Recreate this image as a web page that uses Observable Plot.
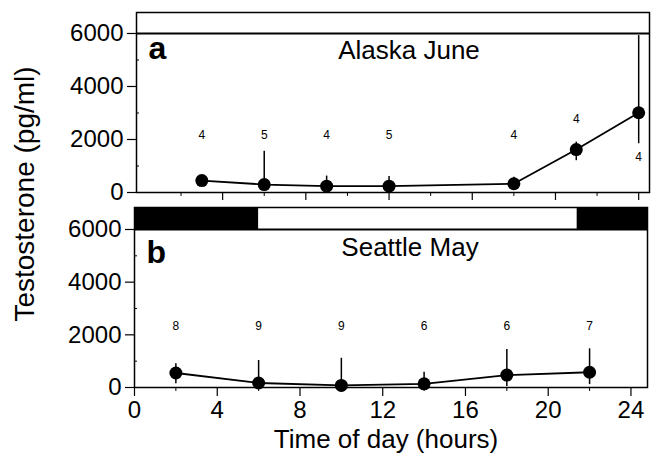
<!DOCTYPE html>
<html>
<head>
<meta charset="utf-8">
<script src="https://cdn.jsdelivr.net/npm/d3@7"></script>
<script src="https://cdn.jsdelivr.net/npm/@observablehq/plot@0.6"></script>
<style>
  html, body { margin: 0; padding: 0; background: #fff; }
  #fig { position: relative; width: 660px; height: 460px; background: #fff; font-family: "Liberation Sans", Arial, sans-serif; }
  #fig svg { position: absolute; left: 0; overflow: visible; }
  #ylab { position: absolute; left: 25px; top: 194px; transform: translate(-50%, -50%) rotate(-90deg); white-space: nowrap; font-size: 28px; line-height: 1; color: #000; }
</style>
</head>
<body>
<div id="fig"><div id="ylab">Testosterone (pg/ml)</div></div>
<script>
// ---- Data ----
const alaskaHours = [3, 6, 9, 12, 18, 21, 24];
const alaskaMean  = [450, 300, 240, 240, 330, 1620, 3010];
const alaskaLow   = [300, 100, 100, 100, 150, 1200, 1840];
const alaskaHigh  = [600, 1560, 620, 600, 580, 1900, 5920];
const alaskaN     = [4, 5, 4, 5, 4, 4, 4];
const alaskaNAt   = [2180, 2180, 2180, 2180, 2180, 2780, 1330];
const alaskaDark  = [];                      // continuous daylight in June

const seattleHours = [2, 6, 10, 14, 18, 22];
const seattleMean  = [550, 170, 80, 140, 470, 580];
const seattleLow   = [140, 0, 0, 0, 40, 110];
const seattleHigh  = [900, 1025, 1110, 580, 1440, 1470];
const seattleN     = [8, 9, 9, 6, 6, 7];
const seattleNAt   = [2330, 2330, 2330, 2330, 2330, 2330];
const seattleDark  = [[-6, 6], [21.4, 30]];  // night periods (hours)

const yTicks = [0, 2000, 4000, 6000];
const yMinor = [1000, 3000, 5000];
const xMajor = [0, 4, 8, 12, 16, 20, 24];
const xMinor = [2, 6, 10, 14, 18, 22];
const barBase = 6000;

const font = '"Liberation Sans", Arial, sans-serif';

function rows(h, m, lo, hi, n, at) {
  return h.map((d, i) => ({hour: d, mean: m[i], low: lo[i], high: hi[i], n: n[i], at: at[i]}));
}

function panel({data, dark, xDomain, yMax, width, height, mL, mR, mT, mB, letter, title, letterDy, titleDx, titleDy, showX}) {
  const marks = [
    Plot.rect(dark, {x1: d => d[0], x2: d => d[1], y1: barBase, y2: yMax, fill: "#000", clip: true}),
    Plot.ruleY([barBase], {stroke: "#000", strokeWidth: 1.8}),
    Plot.frame({stroke: "#000", strokeWidth: 1.5}),
    Plot.axisY({ticks: yTicks, tickSize: 9, tickPadding: 4, fontSize: 24, tickFormat: d => String(d), label: null, strokeWidth: 1.2}),
    Plot.axisY({ticks: yMinor, tickSize: -3, tickFormat: () => "", label: null}),
    Plot.axisX({ticks: xMinor, tickSize: 4, tickFormat: () => "", label: null}),
    Plot.ruleX(data, {x: "hour", y1: "low", y2: "high", stroke: "#000", strokeWidth: 1.5}),
    Plot.line(data, {x: "hour", y: "mean", stroke: "#000", strokeWidth: 1.8}),
    Plot.dot(data, {x: "hour", y: "mean", r: 6.5, fill: "#000", stroke: "none"}),
    Plot.text(data, {x: "hour", y: "at", text: "n", fontSize: 12, fill: "#000"}),
    Plot.text([letter], {text: d => d, frameAnchor: "top-left", textAnchor: "start", lineAnchor: "top", dx: 12, dy: letterDy, fontSize: 32, fontWeight: "bold", fill: "#000"}),
    Plot.text([title], {text: d => d, frameAnchor: "top", lineAnchor: "top", dx: titleDx, dy: titleDy, fontSize: 26, fill: "#000"})
  ];
  if (showX) {
    marks.push(Plot.axisX({ticks: xMajor, tickSize: 9, tickPadding: 4, fontSize: 24, tickFormat: d => String(d), label: null, strokeWidth: 1.2}));
    marks.push(Plot.text(["Time of day (hours)"], {text: d => d, frameAnchor: "bottom", lineAnchor: "middle", dx: -5, dy: 52, fontSize: 26, fill: "#000"}));
  } else {
    marks.push(Plot.axisX({ticks: xMajor.slice(1), tickSize: 8, tickFormat: () => "", label: null, strokeWidth: 1.2}));
  }
  return Plot.plot({
    width, height,
    marginLeft: mL, marginRight: mR, marginTop: mT, marginBottom: mB,
    x: {domain: xDomain},
    y: {domain: [0, yMax]},
    style: {fontFamily: font, background: "transparent", color: "#000"},
    marks
  });
}

const topPanel = panel({
  data: rows(alaskaHours, alaskaMean, alaskaLow, alaskaHigh, alaskaN, alaskaNAt),
  dark: alaskaDark,
  xDomain: [-0.14, 24.52], yMax: 6792,
  width: 660, height: 200, mL: 136, mR: 11, mT: 12, mB: 8,
  letter: "a", title: "Alaska June", letterDy: 24, titleDx: 16, titleDy: 28, showX: false
});
topPanel.style.top = "0px";

const bottomPanel = panel({
  data: rows(seattleHours, seattleMean, seattleLow, seattleHigh, seattleN, seattleNAt),
  dark: seattleDark,
  xDomain: [0, 24.8], yMax: 6835,
  width: 660, height: 260, mL: 134, mR: 13, mT: 7, mB: 73,
  letter: "b", title: "Seattle May", letterDy: 33, titleDx: 19, titleDy: 30, showX: true
});
bottomPanel.style.top = "200px";

const fig = document.getElementById("fig");
fig.appendChild(topPanel);
fig.appendChild(bottomPanel);
</script>
</body>
</html>
